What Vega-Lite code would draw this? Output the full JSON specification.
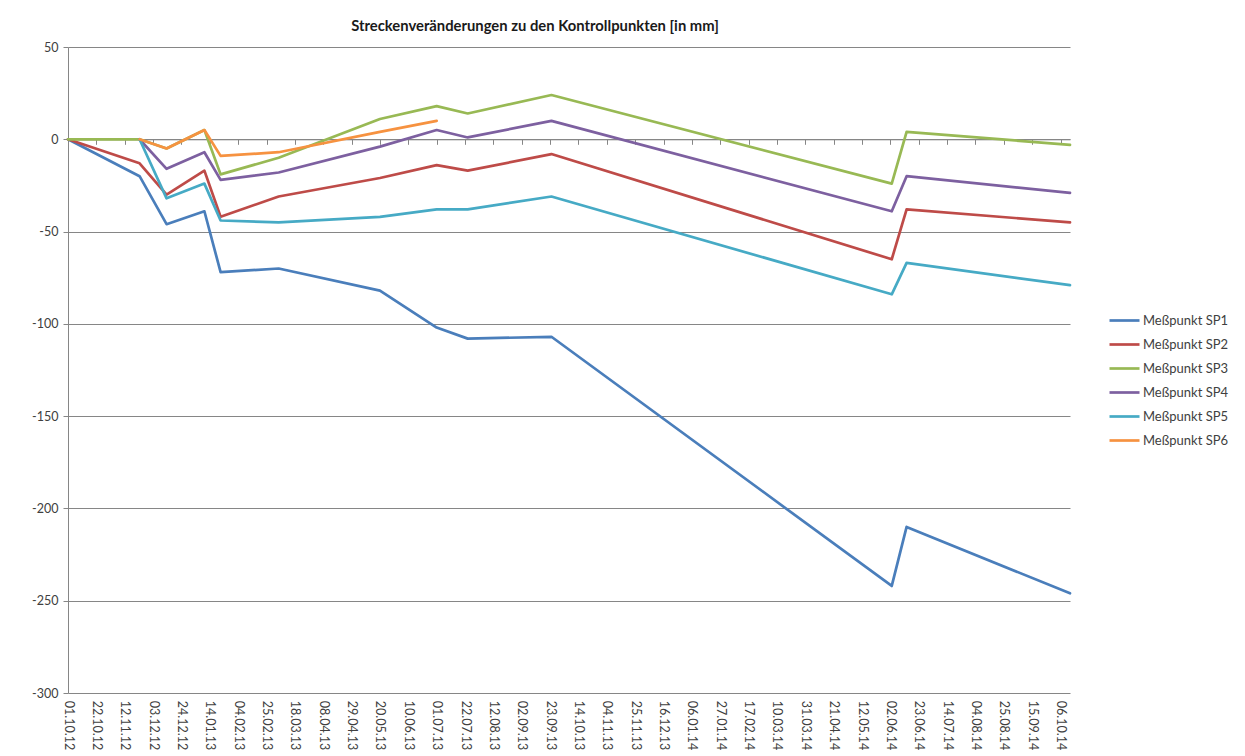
{
  "$schema": "https://vega.github.io/schema/vega-lite/v6.json",
  "width": 1002,
  "height": 646,
  "autosize": {"type": "none"},
  "padding": {"left": 68, "top": 47, "right": 175, "bottom": 63},
  "background": "white",
  "config": {
    "font": "Lato",
    "view": {"stroke": null},
    "axis": {"labelFont": "Lato", "labelFontSize": 12.5, "labelColor": "#404040"},
    "legend": {"labelFont": "Lato"}
  },
  "title": {
    "text": "Streckenveränderungen zu den Kontrollpunkten [in mm]",
    "font": "Lato",
    "fontSize": 14.8,
    "fontWeight": "bold",
    "color": "#1a1a1a",
    "anchor": "middle",
    "frame": "group",
    "dx": -34,
    "offset": 7
  },
  "data": {
    "values": [
      {"d": "2012-10-01", "s": "Meßpunkt SP1", "v": 0},
      {"d": "2012-11-23", "s": "Meßpunkt SP1", "v": -20},
      {"d": "2012-12-13", "s": "Meßpunkt SP1", "v": -46},
      {"d": "2013-01-10", "s": "Meßpunkt SP1", "v": -39},
      {"d": "2013-01-22", "s": "Meßpunkt SP1", "v": -72},
      {"d": "2013-03-06", "s": "Meßpunkt SP1", "v": -70},
      {"d": "2013-05-20", "s": "Meßpunkt SP1", "v": -82},
      {"d": "2013-07-01", "s": "Meßpunkt SP1", "v": -102},
      {"d": "2013-07-24", "s": "Meßpunkt SP1", "v": -108},
      {"d": "2013-09-24", "s": "Meßpunkt SP1", "v": -107},
      {"d": "2014-06-03", "s": "Meßpunkt SP1", "v": -242},
      {"d": "2014-06-14", "s": "Meßpunkt SP1", "v": -210},
      {"d": "2014-10-13", "s": "Meßpunkt SP1", "v": -246},

      {"d": "2012-10-01", "s": "Meßpunkt SP2", "v": 0},
      {"d": "2012-11-23", "s": "Meßpunkt SP2", "v": -13},
      {"d": "2012-12-13", "s": "Meßpunkt SP2", "v": -30},
      {"d": "2013-01-10", "s": "Meßpunkt SP2", "v": -17},
      {"d": "2013-01-22", "s": "Meßpunkt SP2", "v": -42},
      {"d": "2013-03-06", "s": "Meßpunkt SP2", "v": -31},
      {"d": "2013-05-20", "s": "Meßpunkt SP2", "v": -21},
      {"d": "2013-07-01", "s": "Meßpunkt SP2", "v": -14},
      {"d": "2013-07-24", "s": "Meßpunkt SP2", "v": -17},
      {"d": "2013-09-24", "s": "Meßpunkt SP2", "v": -8},
      {"d": "2014-06-03", "s": "Meßpunkt SP2", "v": -65},
      {"d": "2014-06-14", "s": "Meßpunkt SP2", "v": -38},
      {"d": "2014-10-13", "s": "Meßpunkt SP2", "v": -45},

      {"d": "2012-10-01", "s": "Meßpunkt SP3", "v": 0},
      {"d": "2012-11-23", "s": "Meßpunkt SP3", "v": 0},
      {"d": "2012-12-13", "s": "Meßpunkt SP3", "v": -5},
      {"d": "2013-01-10", "s": "Meßpunkt SP3", "v": 5},
      {"d": "2013-01-22", "s": "Meßpunkt SP3", "v": -19},
      {"d": "2013-03-06", "s": "Meßpunkt SP3", "v": -10},
      {"d": "2013-05-20", "s": "Meßpunkt SP3", "v": 11},
      {"d": "2013-07-01", "s": "Meßpunkt SP3", "v": 18},
      {"d": "2013-07-24", "s": "Meßpunkt SP3", "v": 14},
      {"d": "2013-09-24", "s": "Meßpunkt SP3", "v": 24},
      {"d": "2014-06-03", "s": "Meßpunkt SP3", "v": -24},
      {"d": "2014-06-14", "s": "Meßpunkt SP3", "v": 4},
      {"d": "2014-10-13", "s": "Meßpunkt SP3", "v": -3},

      {"d": "2012-11-23", "s": "Meßpunkt SP4", "v": 0},
      {"d": "2012-12-13", "s": "Meßpunkt SP4", "v": -16},
      {"d": "2013-01-10", "s": "Meßpunkt SP4", "v": -7},
      {"d": "2013-01-22", "s": "Meßpunkt SP4", "v": -22},
      {"d": "2013-03-06", "s": "Meßpunkt SP4", "v": -18},
      {"d": "2013-05-20", "s": "Meßpunkt SP4", "v": -4},
      {"d": "2013-07-01", "s": "Meßpunkt SP4", "v": 5},
      {"d": "2013-07-24", "s": "Meßpunkt SP4", "v": 1},
      {"d": "2013-09-24", "s": "Meßpunkt SP4", "v": 10},
      {"d": "2014-06-03", "s": "Meßpunkt SP4", "v": -39},
      {"d": "2014-06-14", "s": "Meßpunkt SP4", "v": -20},
      {"d": "2014-10-13", "s": "Meßpunkt SP4", "v": -29},

      {"d": "2012-11-23", "s": "Meßpunkt SP5", "v": 0},
      {"d": "2012-12-13", "s": "Meßpunkt SP5", "v": -32},
      {"d": "2013-01-10", "s": "Meßpunkt SP5", "v": -24},
      {"d": "2013-01-22", "s": "Meßpunkt SP5", "v": -44},
      {"d": "2013-03-06", "s": "Meßpunkt SP5", "v": -45},
      {"d": "2013-05-20", "s": "Meßpunkt SP5", "v": -42},
      {"d": "2013-07-01", "s": "Meßpunkt SP5", "v": -38},
      {"d": "2013-07-24", "s": "Meßpunkt SP5", "v": -38},
      {"d": "2013-09-24", "s": "Meßpunkt SP5", "v": -31},
      {"d": "2014-06-03", "s": "Meßpunkt SP5", "v": -84},
      {"d": "2014-06-14", "s": "Meßpunkt SP5", "v": -67},
      {"d": "2014-10-13", "s": "Meßpunkt SP5", "v": -79},

      {"d": "2012-11-23", "s": "Meßpunkt SP6", "v": 0},
      {"d": "2012-12-13", "s": "Meßpunkt SP6", "v": -5},
      {"d": "2013-01-10", "s": "Meßpunkt SP6", "v": 5},
      {"d": "2013-01-22", "s": "Meßpunkt SP6", "v": -9},
      {"d": "2013-03-06", "s": "Meßpunkt SP6", "v": -7},
      {"d": "2013-05-20", "s": "Meßpunkt SP6", "v": 4},
      {"d": "2013-07-01", "s": "Meßpunkt SP6", "v": 10}
    ]
  },
  "mark": {"type": "line", "strokeWidth": 2.7, "strokeJoin": "round", "strokeCap": "round"},
  "encoding": {
    "x": {
      "field": "d",
      "type": "temporal",
      "title": null,
      "scale": {
        "type": "utc",
        "domain": [
          {"year": 2012, "month": 10, "date": 1, "utc": true},
          {"year": 2014, "month": 10, "date": 13, "utc": true}
        ]
      },
      "axis": {
        "orient": "bottom",
        "offset": -553.7,
        "values": [
          {"year": 2012, "month": 10, "date": 1, "utc": true},
          {"year": 2012, "month": 10, "date": 22, "utc": true},
          {"year": 2012, "month": 11, "date": 12, "utc": true},
          {"year": 2012, "month": 12, "date": 3, "utc": true},
          {"year": 2012, "month": 12, "date": 24, "utc": true},
          {"year": 2013, "month": 1, "date": 14, "utc": true},
          {"year": 2013, "month": 2, "date": 4, "utc": true},
          {"year": 2013, "month": 2, "date": 25, "utc": true},
          {"year": 2013, "month": 3, "date": 18, "utc": true},
          {"year": 2013, "month": 4, "date": 8, "utc": true},
          {"year": 2013, "month": 4, "date": 29, "utc": true},
          {"year": 2013, "month": 5, "date": 20, "utc": true},
          {"year": 2013, "month": 6, "date": 10, "utc": true},
          {"year": 2013, "month": 7, "date": 1, "utc": true},
          {"year": 2013, "month": 7, "date": 22, "utc": true},
          {"year": 2013, "month": 8, "date": 12, "utc": true},
          {"year": 2013, "month": 9, "date": 2, "utc": true},
          {"year": 2013, "month": 9, "date": 23, "utc": true},
          {"year": 2013, "month": 10, "date": 14, "utc": true},
          {"year": 2013, "month": 11, "date": 4, "utc": true},
          {"year": 2013, "month": 11, "date": 25, "utc": true},
          {"year": 2013, "month": 12, "date": 16, "utc": true},
          {"year": 2014, "month": 1, "date": 6, "utc": true},
          {"year": 2014, "month": 1, "date": 27, "utc": true},
          {"year": 2014, "month": 2, "date": 17, "utc": true},
          {"year": 2014, "month": 3, "date": 10, "utc": true},
          {"year": 2014, "month": 3, "date": 31, "utc": true},
          {"year": 2014, "month": 4, "date": 21, "utc": true},
          {"year": 2014, "month": 5, "date": 12, "utc": true},
          {"year": 2014, "month": 6, "date": 2, "utc": true},
          {"year": 2014, "month": 6, "date": 23, "utc": true},
          {"year": 2014, "month": 7, "date": 14, "utc": true},
          {"year": 2014, "month": 8, "date": 4, "utc": true},
          {"year": 2014, "month": 8, "date": 25, "utc": true},
          {"year": 2014, "month": 9, "date": 15, "utc": true},
          {"year": 2014, "month": 10, "date": 6, "utc": true}
        ],
        "labelExpr": "utcFormat(datum.value, '%d.%m.%y')",
        "labelAngle": 90,
        "labelAlign": "left",
        "labelBaseline": "middle",
        "labelPadding": 556,
        "labelOverlap": false,
        "labelFlush": false,
        "labelBound": false,
        "domain": true,
        "domainColor": "#868686",
        "domainWidth": 1,
        "ticks": true,
        "tickSize": 5,
        "tickColor": "#868686",
        "grid": false
      }
    },
    "y": {
      "field": "v",
      "type": "quantitative",
      "title": null,
      "scale": {"domain": [-300, 50], "nice": false, "zero": false},
      "axis": {
        "values": [-300, -250, -200, -150, -100, -50, 0, 50],
        "labelExpr": "'' + datum.value",
        "grid": true,
        "gridColor": "#868686",
        "gridWidth": 1,
        "domain": true,
        "domainColor": "#868686",
        "ticks": true,
        "tickSize": 5,
        "tickColor": "#868686",
        "labelPadding": 5
      }
    },
    "color": {
      "field": "s",
      "type": "nominal",
      "title": null,
      "scale": {
        "domain": ["Meßpunkt SP1", "Meßpunkt SP2", "Meßpunkt SP3", "Meßpunkt SP4", "Meßpunkt SP5", "Meßpunkt SP6"],
        "range": ["#4A7EBB", "#BE4B48", "#98B954", "#7D60A0", "#46AAC5", "#F69240"]
      },
      "legend": {
        "orient": "none",
        "legendX": 1040,
        "legendY": 257,
        "symbolType": "stroke",
        "symbolSize": 900,
        "symbolStrokeWidth": 2.7,
        "labelFontSize": 13,
        "labelColor": "#404040",
        "labelOffset": 2,
        "rowPadding": 0
      }
    }
  }
}
